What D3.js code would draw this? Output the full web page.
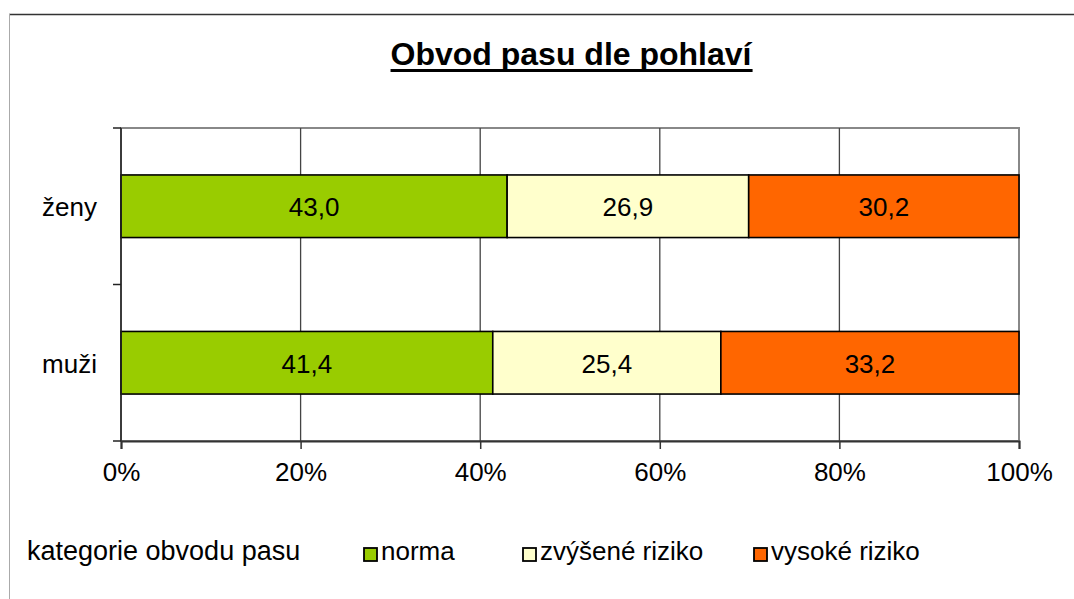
<!DOCTYPE html>
<html>
<head>
<meta charset="utf-8">
<script src="https://cdn.jsdelivr.net/npm/d3@7"></script>
<style>
  body { margin: 0; background: #fff; }
  text { font-family: "Liberation Sans", Arial, sans-serif; fill: #000; }
</style>
</head>
<body>
<div id="canvas"></div>
<script>
"use strict"
// chart size
let svgWidth = 1074;
let svgHeight = 599;

// data
let groups = ["ženy", "muži"];
let categories = ["norma", "zvýšené riziko", "vysoké riziko"];
let colors = ["#99cc00", "#ffffcc", "#ff6600"];
let zenyValues = [43.0, 26.9, 30.2];
let muziValues = [41.4, 25.4, 33.2];
let tickValues = [0, 20, 40, 60, 80, 100];

let margin = { top: 128, right: 55, bottom: 158, left: 121 };
let plotW = svgWidth - margin.left - margin.right;
let plotH = svgHeight - margin.top - margin.bottom;
let fontSize = "26px";

let svg = d3.select("#canvas")
    .append("svg")
    .attr("width", svgWidth)
    .attr("height", svgHeight);

svg.append("rect")
    .attr("width", svgWidth)
    .attr("height", svgHeight)
    .attr("fill", "#ffffff");

// outer frame (top + left)
svg.append("line")
    .attr("x1", 9).attr("x2", svgWidth)
    .attr("y1", 14.5).attr("y2", 14.5)
    .attr("stroke", "#333").attr("stroke-width", 1.5);
svg.append("line")
    .attr("x1", 9.5).attr("x2", 9.5)
    .attr("y1", 14).attr("y2", svgHeight)
    .attr("stroke", "#aaa").attr("stroke-width", 1);

// title
let title = svg.append("text")
    .attr("x", 571)
    .attr("y", 65)
    .attr("text-anchor", "middle")
    .style("font-size", "32px")
    .style("font-weight", "bold")
    .text("Obvod pasu dle pohlaví");
let tb = title.node().getBBox();
svg.append("line")
    .attr("x1", tb.x).attr("x2", tb.x + tb.width)
    .attr("y1", 70.5).attr("y2", 70.5)
    .attr("stroke", "#000").attr("stroke-width", 3);

let g = svg.append("g")
    .attr("transform", "translate(" + margin.left + "," + margin.top + ")");

// scales
let xScale = d3.scaleLinear().domain([0, 100]).range([0, plotW]);
let yScale = d3.scaleBand().domain(groups).range([0, plotH]).paddingInner(0.6).paddingOuter(0.3);

// plot frame (top / right gray)
g.append("rect")
    .attr("x", 0).attr("y", 0)
    .attr("width", plotW).attr("height", plotH)
    .attr("fill", "none")
    .attr("stroke", "#888").attr("stroke-width", 2);

// vertical gridlines
g.selectAll(".grid")
    .data(tickValues.slice(1, -1))
    .enter().append("line")
    .attr("x1", d => xScale(d)).attr("x2", d => xScale(d))
    .attr("y1", 0).attr("y2", plotH)
    .attr("stroke", "#444").attr("stroke-width", 1.3);

// stacked bars
let rows = [zenyValues, muziValues];
rows.forEach(function(vals, i) {
    let start = 0;
    vals.forEach(function(v, j) {
        let x0 = xScale(start);
        let x1 = xScale(Math.min(start + v, 100));
        g.append("rect")
            .attr("x", x0)
            .attr("y", yScale(groups[i]))
            .attr("width", x1 - x0)
            .attr("height", yScale.bandwidth())
            .attr("fill", colors[j])
            .attr("stroke", "#000")
            .attr("stroke-width", 1.6);
        g.append("text")
            .attr("x", (x0 + x1) / 2)
            .attr("y", yScale(groups[i]) + yScale.bandwidth() / 2 + 10)
            .attr("text-anchor", "middle")
            .style("font-size", fontSize)
            .text(d3.format(".1f")(v).replace(".", ","));
        start += v;
    });
});

// y axis
let yAxis = g.append("g");
yAxis.append("line")
    .attr("x1", 0).attr("x2", 0).attr("y1", 0).attr("y2", plotH)
    .attr("stroke", "#222").attr("stroke-width", 1.5);
[0, plotH / 2, plotH].forEach(function(y) {
    yAxis.append("line")
        .attr("x1", -8).attr("x2", 0).attr("y1", y).attr("y2", y)
        .attr("stroke", "#222").attr("stroke-width", 1.5);
});
groups.forEach(function(d) {
    yAxis.append("text")
        .attr("x", -24)
        .attr("y", yScale(d) + yScale.bandwidth() / 2 + 10)
        .attr("text-anchor", "end")
        .style("font-size", fontSize)
        .text(d);
});

// x axis
let xAxis = g.append("g").attr("transform", "translate(0," + plotH + ")")
    .call(d3.axisBottom(xScale).tickValues(tickValues).tickSize(8).tickPadding(14).tickFormat(d => d + "%"));
xAxis.select(".domain").attr("stroke", "#333").attr("stroke-width", 2);
xAxis.selectAll(".tick line").attr("stroke", "#333").attr("stroke-width", 1.5);
xAxis.selectAll("text").style("font-size", fontSize).attr("font-family", null).attr("fill", "#000");

// legend
let ly = 555;
svg.append("clipPath").attr("id", "legClip")
    .append("rect").attr("x", 0).attr("y", 520).attr("width", 300).attr("height", 60);
svg.append("text")
    .attr("x", 27).attr("y", ly + 5)
    .attr("clip-path", "url(#legClip)")
    .style("font-size", "27px")
    .text("kategorie obvodu pasu");

let legendX = [364, 523, 754];
categories.forEach(function(c, i) {
    svg.append("rect")
        .attr("x", legendX[i]).attr("y", ly - 7)
        .attr("width", 13).attr("height", 13)
        .attr("fill", colors[i])
        .attr("stroke", "#000").attr("stroke-width", 1.8);
    svg.append("text")
        .attr("x", legendX[i] + 17).attr("y", ly + 5)
        .style("font-size", fontSize)
        .text(c);
});
</script>
</body>
</html>
